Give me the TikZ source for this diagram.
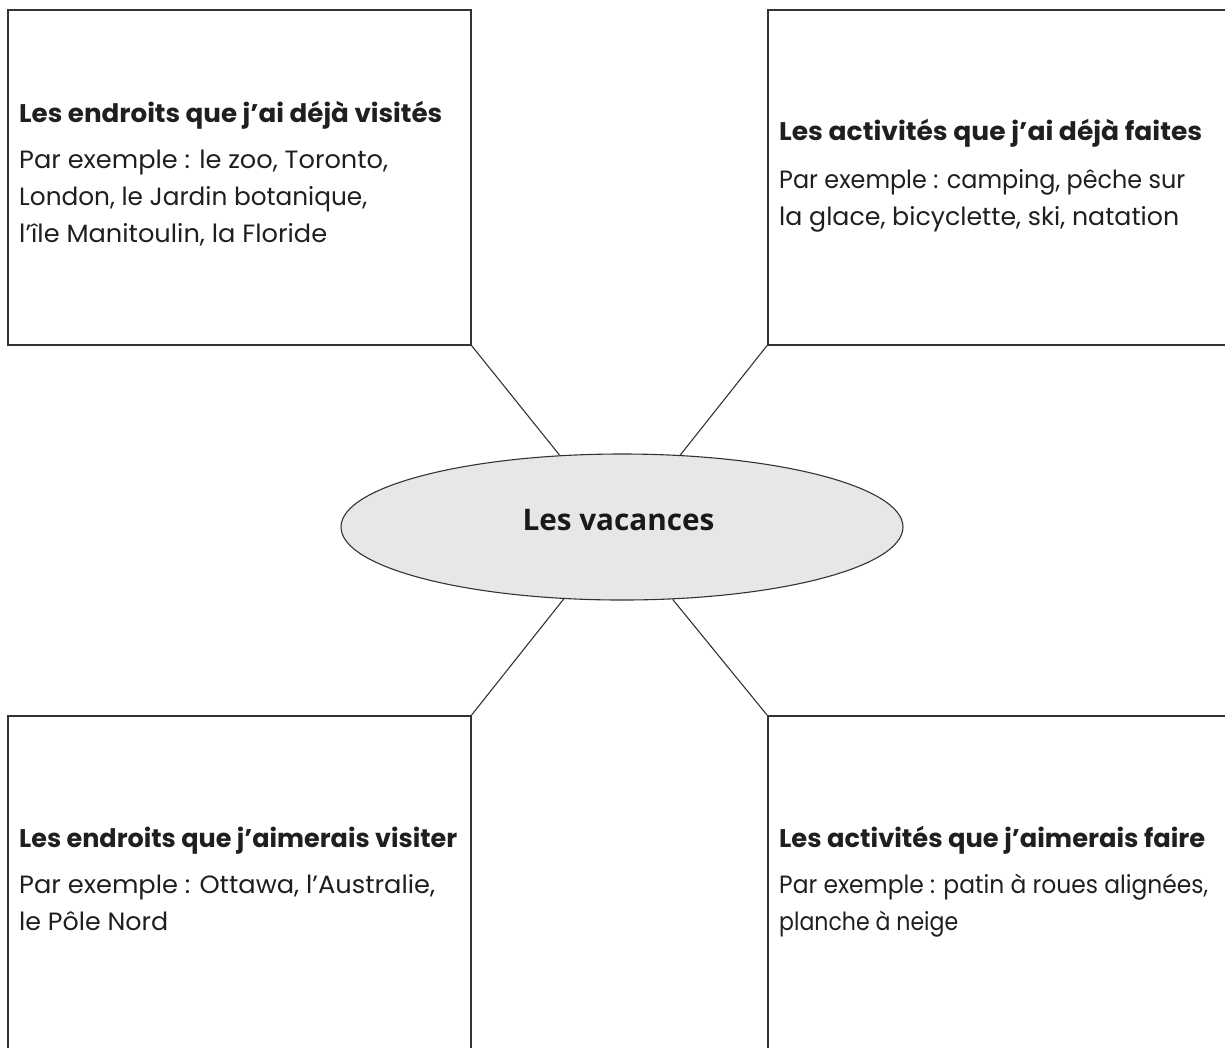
\documentclass[tikz,border=0pt]{standalone}
\usepackage{fontspec}
\usepackage{graphicx}
\setmainfont{Poppins}
\newfontfamily\centrefont{Open Sans}
\usetikzlibrary{shapes.geometric}
\definecolor{linegray}{HTML}{333333}
\definecolor{ellfill}{HTML}{E6E7E8}
\newcommand{\fitw}[2]{\resizebox{#1pt}{\height}{#2}}
\tikzset{
  box/.style={draw=linegray, line width=1.6pt, rectangle, inner sep=0pt, anchor=north west},
  conn/.style={draw=linegray, line width=1.1pt},
  head/.style={anchor=base west, inner sep=0pt, font=\fontsize{25.5}{30}\selectfont\bfseries, text=black!88},
  body/.style={anchor=base west, inner sep=0pt, font=\fontsize{25}{30}\selectfont, text=black!88},
}
\begin{document}
\begin{tikzpicture}[x=1pt,y=-1pt]
\useasboundingbox (0,0) rectangle (1225,1047);
% boxes
\node[box, minimum width=463pt, minimum height=335pt] (tl) at (7,9) {};
\node[box, minimum width=480pt, minimum height=335pt] (tr) at (767,9) {};
\node[box, minimum width=463pt, minimum height=350pt] (bl) at (7,715) {};
\node[box, minimum width=480pt, minimum height=350pt] (br) at (767,715) {};
% ellipse
\node[ellipse, draw=linegray, line width=1.1pt, fill=ellfill, minimum width=562pt, minimum height=146pt, inner sep=0pt] (e) at (622,527) {};
\node[anchor=base, inner sep=0pt, font=\centrefont\fontsize{29.7}{34}\selectfont\bfseries, text=black!90] (etxt) at (618.5,530) {Les vacances};
% connectors
\draw[conn] (tl.south east) -- (e.131);
\draw[conn] (tr.south west) -- (e.51.6);
\draw[conn] (bl.north east) -- (e.231);
\draw[conn] (br.north west) -- (e.305.5);
% top-left text
\node[head] (h1) at (19,122) {\fitw{423}{Les endroits que j’ai déjà visités}};
\node[body] (b1a) at (19,168) {\fitw{369}{Par exemple : le zoo, Toronto,}};
\node[body] (b1b) at (19,205) {\fitw{348}{London, le Jardin botanique,}};
\node[body] (b1c) at (19,242) {\fitw{308}{l’île Manitoulin, la Floride}};
% top-right text
\node[head] (h2) at (779,140) {\fitw{423}{Les activités que j’ai déjà faites}};
\node[body] (b2a) at (779,188) {\fitw{406}{Par exemple : camping, pêche sur}};
\node[body] (b2b) at (779,225) {\fitw{400}{la glace, bicyclette, ski, natation}};
% bottom-left text
\node[head] (h3) at (19,847) {\fitw{438}{Les endroits que j’aimerais visiter}};
\node[body] (b3a) at (19,893) {\fitw{416}{Par exemple : Ottawa, l’Australie,}};
\node[body] (b3b) at (19,930) {\fitw{149}{le Pôle Nord}};
% bottom-right text
\node[head] (h4) at (779,847) {\fitw{426}{Les activités que j’aimerais faire}};
\node[body] (b4a) at (779,893) {\fitw{429}{Par exemple : patin à roues alignées,}};
\node[body] (b4b) at (779,930) {\fitw{179}{planche à neige}};
\end{tikzpicture}
\end{document}
